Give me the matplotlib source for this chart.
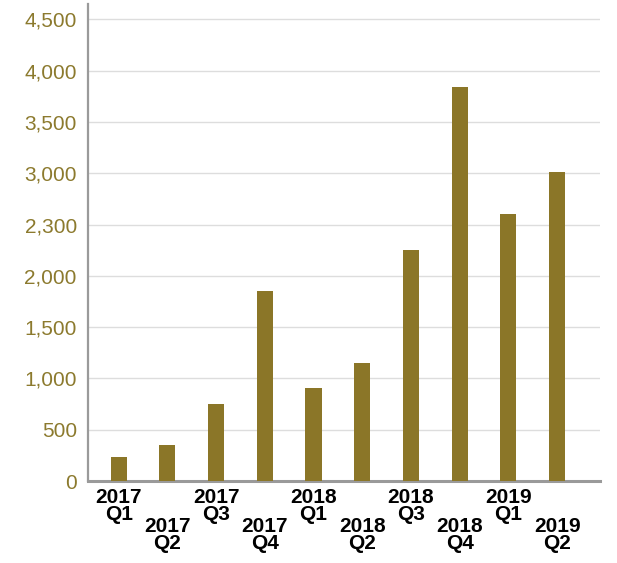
import matplotlib
matplotlib.use("Agg")
from matplotlib import pyplot as plt

# Quarterly values
quarters = ["2017\nQ1", "2017\nQ2", "2017\nQ3", "2017\nQ4",
            "2018\nQ1", "2018\nQ2", "2018\nQ3", "2018\nQ4",
            "2019\nQ1", "2019\nQ2"]
values = [234, 352, 752, 1855, 908, 1152, 2256, 3838, 2598, 3008]

y_ticks = [0, 500, 1000, 1500, 2000, 2500, 3000, 3500, 4000, 4500]
y_tick_labels = ["0", "500", "1,000", "1,500", "2,000", "2,300",
                 "3,000", "3,500", "4,000", "4,500"]

BAR_COLOR = "#8B7628"
LABEL_COLOR = "#8C7A2E"
SPINE_COLOR = "#9A9A9A"

plt.rcParams["font.family"] = ["Liberation Sans", "DejaVu Sans"]

fig = plt.figure(figsize=(6.17, 5.63), dpi=100)
ax = fig.add_axes([0.1426, 0.1456, 0.9724 - 0.1426, 0.993 - 0.1456])

x = list(range(len(values)))
ax.bar(x, values, width=0.33, color=BAR_COLOR, zorder=3)

ax.set_xlim(-0.63, 9.88)
ax.set_ylim(0, 4650)

# grille horizontale
ax.set_yticks(y_ticks)
ax.set_yticklabels(y_tick_labels)
ax.yaxis.grid(True, color="#DDDDDD", linewidth=1.0, zorder=0)
ax.set_axisbelow(True)

ax.tick_params(axis="y", length=0, pad=8, labelsize=15, labelcolor=LABEL_COLOR)
ax.tick_params(axis="x", length=0, labelsize=15, labelcolor="black")

ax.set_xticks(x)
ax.set_xticklabels(quarters)
for i, (tick, lab) in enumerate(zip(ax.xaxis.get_major_ticks(), ax.get_xticklabels())):
    lab.set_linespacing(0.85)
    lab.set_fontweight("bold")
    tick.set_pad(5 if i % 2 == 0 else 26)

for side in ["top", "right"]:
    ax.spines[side].set_visible(False)
ax.spines["left"].set_color(SPINE_COLOR)
ax.spines["left"].set_linewidth(1.6)
ax.spines["bottom"].set_color(SPINE_COLOR)
ax.spines["bottom"].set_linewidth(2.2)

fig.savefig("out.png", dpi=100)
plt.close(fig)
